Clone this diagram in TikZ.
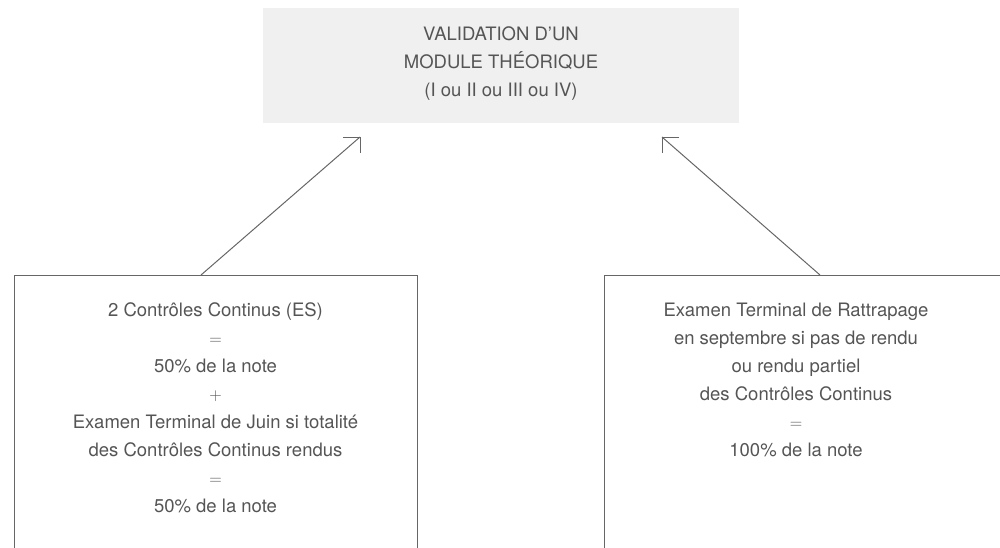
\documentclass[tikz,border=0pt]{standalone}
\usepackage{fontspec}
\setmainfont{TeX Gyre Heros}
\definecolor{txt}{HTML}{555555}
\definecolor{ln}{HTML}{666666}
\definecolor{boxfill}{HTML}{F0F0F0}
\tikzset{
  every node/.style={inner sep=0pt, outer sep=0pt},
  label text/.style={text=txt, align=center, font=\fontsize{18.5}{28}\selectfont},
  gray box/.style={fill=boxfill, draw=none, minimum width=476pt, minimum height=115pt},
  frame box/.style={draw=ln, line width=1pt, fill=none},
  link/.style={draw=ln, line width=1pt},
}
\begin{document}
\begin{tikzpicture}[x=1pt,y=-1pt]
\useasboundingbox (0,0) rectangle (1000,547);
\clip (0,0) rectangle (1000,547);
% top box
\node[gray box] (top) at (501,65.5) {};
\node[label text, anchor=north] (toptext) at (top.center |- 0,27) {VALIDATION D’UN\\MODULE THÉORIQUE\\(I ou II ou III ou IV)};
% bottom boxes
\node[frame box, minimum width=403pt, minimum height=320pt, anchor=north west] (lbox) at (14,275) {};
\node[frame box, minimum width=420pt, minimum height=320pt, anchor=north west] (rbox) at (604,275) {};
\node[label text, anchor=north] (ltext) at (215.5,303) {2 Contrôles Continus (ES)\\$=$\\50\% de la note\\$+$\\Examen Terminal de Juin si totalité\\des Contrôles Continus rendus\\$=$\\50\% de la note};
\node[label text, anchor=north] (rtext) at (796,303) {Examen Terminal de Rattrapage\\en septembre si pas de rendu\\ou rendu partiel\\des Contrôles Continus\\$=$\\100\% de la note};
% connectors
\coordinate (ls) at (lbox.north west -| 201,0);
\coordinate (lt) at (360,137);
\coordinate (rs) at (rbox.north west -| 820,0);
\coordinate (rt) at (662,137);
\draw[link] (ls) -- (lt);
\draw[link] ([xshift=-17pt]lt) -- (lt) -- ([yshift=-16pt]lt);
\draw[link] (rs) -- (rt);
\draw[link] ([xshift=17pt]rt) -- (rt) -- ([yshift=-16pt]rt);
\end{tikzpicture}
\end{document}
